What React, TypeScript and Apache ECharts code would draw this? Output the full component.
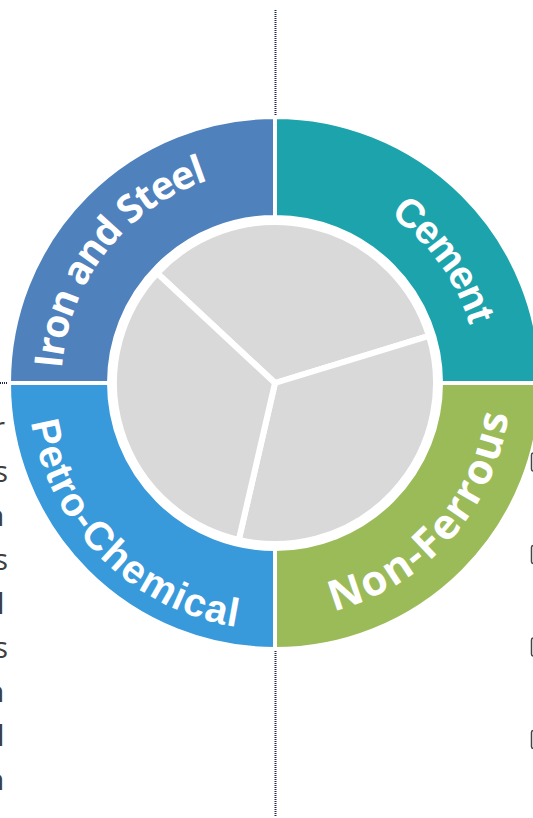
import React, { useEffect, useRef } from "react";
import * as echarts from "echarts";

// ---- data ----
const categories = ["Cement", "Non-Ferrous", "Petro-Chemical", "Iron and Steel"];
const sectorShares = [25, 25, 25, 25];
const innerShares = [1, 1, 1];
const sideLetters = ["r", "s", "n", "s", "l", "s", "n", "l", "n"];
const markerRows = [0, 1, 2, 3];

// ---- styles / layout ----
const ringColors = ["#1CA3AC", "#9BBB59", "#3899DB", "#4F81BD"];
const labelLayout = [
  { offset: -9, r: 217, size: 40, weight: "bold", family: "Liberation Sans" },
  { offset: 3.3, r: 219, size: 42, weight: "bold", family: "Open Sans" },
  { offset: 0, r: 233, size: 40, weight: "bold", family: "Liberation Sans" },
  { offset: 7.2, r: 229, size: 39, weight: "bold", family: "Open Sans" },
];
const letterRight: Record<string, number> = { r: 5, s: 8, n: 4.5, l: 4.5 };

const CX = 275;
const CY = 383;

export default function App() {
  const ref = useRef<HTMLDivElement>(null);
  useEffect(() => {
    if (!ref.current) return;
    const chart = echarts.init(ref.current, null, { renderer: "svg" });
    const ctx = document.createElement("canvas").getContext("2d")!;
    const graphics: any[] = [];

    // dotted guide lines
    const dot = { stroke: "#1d2a44", lineWidth: 2, lineDash: [1, 1] };
    graphics.push({ type: "line", z: 1, shape: { x1: CX + 0.5, y1: 10, x2: CX + 0.5, y2: 117 }, style: dot, silent: true });
    graphics.push({ type: "line", z: 1, shape: { x1: CX + 0.5, y1: 651, x2: CX + 0.5, y2: 816 }, style: dot, silent: true });
    graphics.push({ type: "line", z: 1, shape: { x1: 0, y1: CY, x2: 9, y2: CY }, style: dot, silent: true });
    graphics.push({ type: "line", z: 1, shape: { x1: 108, y1: CY, x2: 111, y2: CY }, style: dot, silent: true });
    graphics.push({ type: "line", z: 1, shape: { x1: 437, y1: CY, x2: 440, y2: CY }, style: dot, silent: true });
    graphics.push({ type: "line", z: 1, shape: { x1: CX + 0.5, y1: 542, x2: CX + 0.5, y2: 547 }, style: dot, silent: true });

    // curved labels
    const total = sectorShares.reduce((a, b) => a + b, 0);
    let cum = 0;
    categories.forEach((name, i) => {
      const mid = 90 - ((cum + sectorShares[i] / 2) / total) * 360;
      cum += sectorShares[i];
      const L = labelLayout[i];
      const center = ((mid + L.offset) * Math.PI) / 180;
      const top = Math.sin(center) > 0;
      const font = `${L.weight} ${L.size}px "${L.family}"`;
      ctx.font = font;
      const totalW = ctx.measureText(name).width;
      for (let k = 0; k < name.length; k++) {
        const ch = name[k];
        if (ch === " ") continue;
        const a0 = ctx.measureText(name.slice(0, k)).width;
        const a1 = ctx.measureText(name.slice(0, k + 1)).width;
        const off = (a0 + a1) / 2 - totalW / 2;
        const d = off / L.r;
        const ang = top ? center - d : center + d;
        graphics.push({
          type: "text",
          z: 10,
          x: CX + L.r * Math.cos(ang),
          y: CY - L.r * Math.sin(ang),
          rotation: top ? ang - Math.PI / 2 : ang + Math.PI / 2,
          silent: true,
          style: {
            text: ch,
            fill: "#ffffff",
            font,
            textAlign: "center",
            textVerticalAlign: "middle",
          },
        });
      }
    });

    // clipped text column on the left
    sideLetters.forEach((ch, i) => {
      graphics.push({
        type: "text",
        z: 5,
        x: letterRight[ch] ?? 5,
        y: 441 + 44 * i,
        silent: true,
        style: {
          text: ch,
          fill: "#3f3f3f",
          font: `30px "Open Sans"`,
          textAlign: "right",
          textVerticalAlign: "bottom",
        },
      });
    });

    // clipped markers on the right
    markerRows.forEach((r) => {
      graphics.push({
        type: "rect",
        z: 5,
        silent: true,
        shape: { x: 531.5, y: 453 + 92.5 * r, width: 14, height: 18, r: 2 },
        style: { fill: "none", stroke: "#444444", lineWidth: 1.5 },
      });
    });

    chart.setOption({
      animation: false,
      backgroundColor: "#ffffff",
      graphic: { elements: graphics },
      series: [
        {
          type: "pie",
          z: 3,
          silent: true,
          center: [CX, CY],
          radius: [166, 266],
          startAngle: 90,
          label: { show: false },
          labelLine: { show: false },
          itemStyle: { borderColor: "#ffffff", borderWidth: 4 },
          data: categories.map((name, i) => ({
            name,
            value: sectorShares[i],
            itemStyle: { color: ringColors[i] },
          })),
        },
        {
          type: "pie",
          z: 3,
          silent: true,
          center: [CX, CY],
          radius: [0, 161],
          startAngle: 137,
          label: { show: false },
          labelLine: { show: false },
          itemStyle: { color: "#D9D9D9", borderColor: "#ffffff", borderWidth: 6 },
          data: innerShares.map((v, i) => ({ name: `part ${i + 1}`, value: v })),
        },
      ],
    });
    return () => chart.dispose();
  }, []);
  return (
    <div
      ref={ref}
      style={{ position: "fixed", left: 0, top: 0, width: 533, height: 818 }}
    />
  );
}
